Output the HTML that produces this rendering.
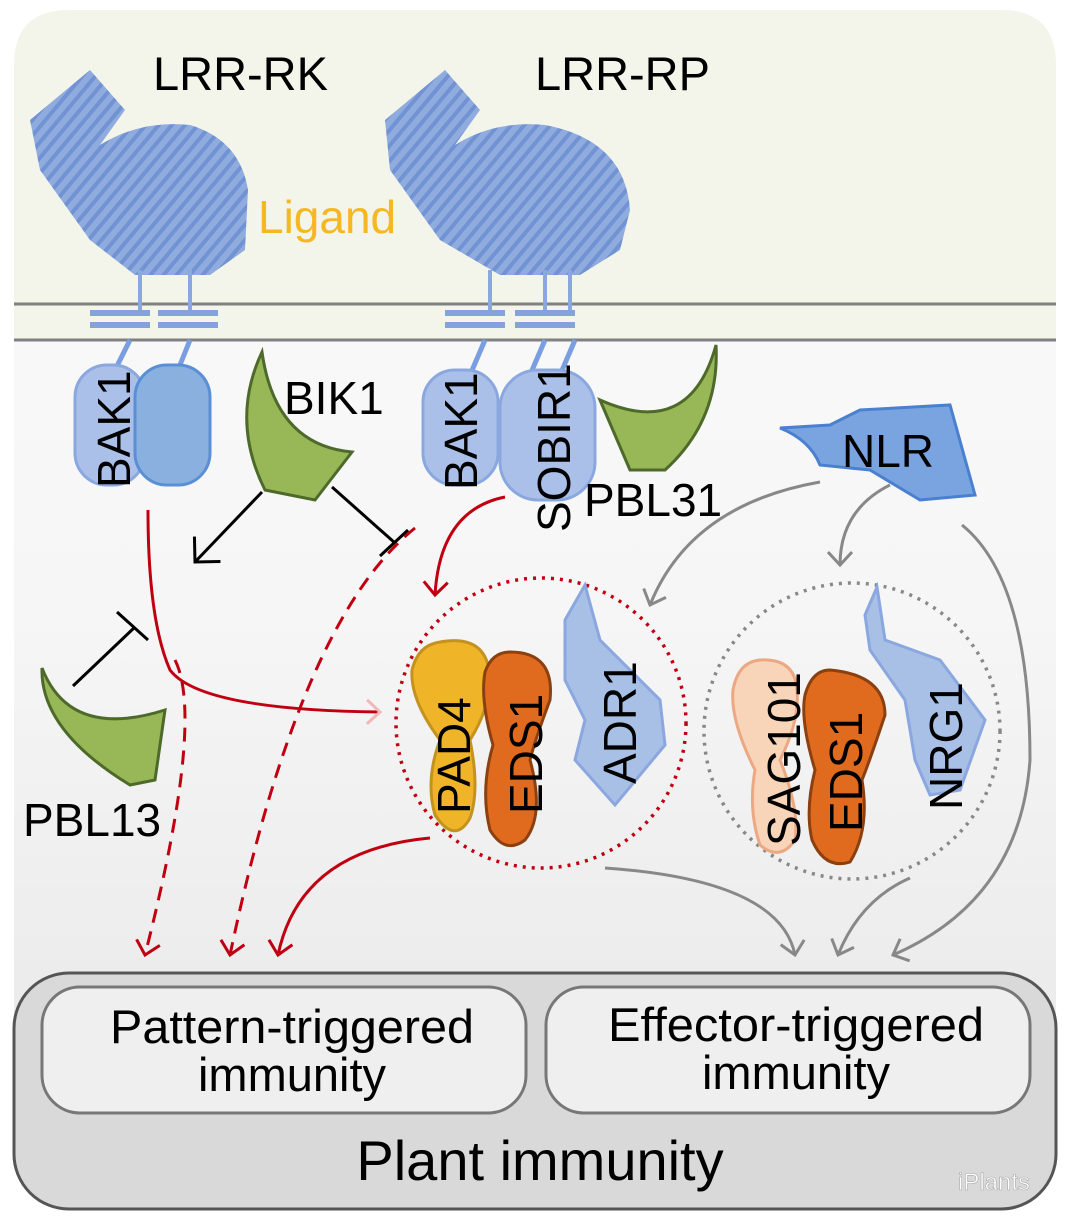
<!DOCTYPE html>
<html><head><meta charset="utf-8"><style>
html,body{margin:0;padding:0;background:#fff}
svg{display:block}
text{font-family:"Liberation Sans",sans-serif}
</style></head><body>
<svg width="1076" height="1224" viewBox="0 0 1076 1224" xmlns="http://www.w3.org/2000/svg">
<defs>
<linearGradient id="bg" x1="0" y1="0" x2="0" y2="1">
<stop offset="0" stop-color="#fbfbfb"/><stop offset="0.5" stop-color="#f6f6f6"/><stop offset="1" stop-color="#e6e6e6"/>
</linearGradient>
<pattern id="stripe" width="10" height="10" patternUnits="userSpaceOnUse" patternTransform="rotate(40)">
<rect width="10" height="10" fill="#7f9fdc"/><rect width="4" height="10" fill="#5a82cf"/>
</pattern>
<marker id="ar" markerWidth="30" markerHeight="30" refX="15" refY="15" orient="auto" markerUnits="userSpaceOnUse"><path d="M2,3 L15,15 L2,27" fill="none" stroke="#c00010" stroke-width="3"/></marker>
<marker id="ag" markerWidth="30" markerHeight="30" refX="15" refY="15" orient="auto" markerUnits="userSpaceOnUse"><path d="M2,3 L15,15 L2,27" fill="none" stroke="#888" stroke-width="3"/></marker>
<marker id="ak" markerWidth="40" markerHeight="40" refX="20" refY="20" orient="auto" markerUnits="userSpaceOnUse"><path d="M2,2 L20,20 L2,38" fill="none" stroke="#000" stroke-width="3"/></marker>
<marker id="ap" markerWidth="30" markerHeight="30" refX="15" refY="15" orient="auto" markerUnits="userSpaceOnUse"><path d="M2,3 L15,15 L2,27" fill="none" stroke="#f0b8b8" stroke-width="3"/></marker>
</defs>
<rect x="14" y="10" width="1042" height="1200" rx="55" fill="url(#bg)"/>
<path d="M14,340 V65 Q14,10 69,10 H1001 Q1056,10 1056,65 V340 Z" fill="#f3f5ea"/>
<line x1="14" y1="304" x2="1056" y2="304" stroke="#808080" stroke-width="3"/>
<line x1="14" y1="340" x2="1056" y2="340" stroke="#808080" stroke-width="3"/>

<!-- receptors -->
<g opacity="0.85">
<path d="M30,120 L90,70 L125,110 L100,145 Q140,120 190,125 Q240,140 248,190 L245,250 L210,275 L135,275 L90,240 L40,170 Z" fill="url(#stripe)"/>
<path d="M385,120 L445,70 L480,110 L455,145 Q495,120 545,125 Q625,140 630,210 L620,250 L580,275 L500,275 L440,240 L390,170 Z" fill="url(#stripe)"/>
</g>
<g stroke="#8aa8df" stroke-width="4" fill="none">
<path d="M140,270 V310"/><path d="M190,270 V310"/><path d="M490,270 V310"/><path d="M545,270 V310"/><path d="M570,270 V310"/>
</g>
<g fill="#6a8fd8" opacity="0.8">
<rect x="90" y="310" width="60" height="6"/><rect x="90" y="322" width="60" height="6"/><rect x="158" y="310" width="60" height="6"/><rect x="158" y="322" width="60" height="6"/>
<rect x="445" y="310" width="60" height="6"/><rect x="445" y="322" width="60" height="6"/><rect x="515" y="310" width="60" height="6"/><rect x="515" y="322" width="60" height="6"/>
</g>
<g stroke="#7a9fe0" stroke-width="5" fill="none">
<path d="M130,340 L115,370"/><path d="M190,340 L178,370"/><path d="M485,340 L470,375"/><path d="M545,340 L530,375"/><path d="M575,340 L560,375"/>
</g>
<!-- clouds -->
<rect x="75" y="365" width="70" height="120" rx="32" fill="#aac0e8" stroke="#8aa8df" stroke-width="3"/>
<rect x="135" y="365" width="75" height="120" rx="32" fill="#8ab0e0" stroke="#5a8fd6" stroke-width="3"/>
<rect x="423" y="370" width="75" height="115" rx="32" fill="#aac0e8" stroke="#8aa8df" stroke-width="3"/>
<rect x="500" y="370" width="95" height="130" rx="38" fill="#aac0e8" stroke="#8aa8df" stroke-width="3"/>
<!-- green crescents -->
<path d="M262,352 Q230,420 265,490 L315,500 L352,452 Q275,445 262,352 Z" fill="#98b858" stroke="#4e6a2a" stroke-width="3"/>
<path d="M716,345 Q690,440 600,400 L630,470 L665,470 Q720,420 716,345 Z" fill="#98b858" stroke="#4e6a2a" stroke-width="3"/>
<path d="M42,668 Q70,740 165,710 L155,780 L130,785 Q40,730 42,668 Z" fill="#98b858" stroke="#4e6a2a" stroke-width="3"/>
<!-- NLR -->
<path d="M780,428 L830,425 L860,410 L950,405 L975,495 L920,500 L870,470 L820,465 Q810,440 780,428 Z" fill="#7aa4e0" stroke="#4a80d0" stroke-width="3"/>

<!-- labels -->
<text x="153" y="90" font-size="47">LRR-RK</text>
<text x="535" y="90" font-size="47">LRR-RP</text>
<text x="258" y="233" font-size="46" fill="#f6b822">Ligand</text>
<text x="284" y="414" font-size="46">BIK1</text>
<text x="584" y="516" font-size="46">PBL31</text>
<text x="842" y="467" font-size="46">NLR</text>
<text x="23" y="836" font-size="46">PBL13</text>
<text transform="translate(130,488) rotate(-90)" font-size="46">BAK1</text>
<text transform="translate(477,490) rotate(-90)" font-size="46">BAK1</text>
<text transform="translate(570,532) rotate(-90)" font-size="46">SOBIR1</text>

<!-- arrows black -->
<line x1="262" y1="492" x2="195" y2="562" stroke="#000" stroke-width="3" marker-end="url(#ak)"/>
<line x1="332" y1="487" x2="395" y2="543" stroke="#000" stroke-width="3"/>
<line x1="380" y1="556" x2="408" y2="530" stroke="#000" stroke-width="3"/>
<line x1="73" y1="686" x2="135" y2="627" stroke="#000" stroke-width="3"/>
<line x1="117" y1="612" x2="148" y2="640" stroke="#000" stroke-width="3"/>

<!-- red -->
<path d="M148,510 Q148,620 170,670 Q200,710 380,712" fill="none" stroke="#c00010" stroke-width="3" marker-end="url(#ap)"/>
<path d="M505,497 Q440,510 435,595" fill="none" stroke="#c00010" stroke-width="3" marker-end="url(#ar)"/>
<path d="M175,660 Q205,720 145,955" fill="none" stroke="#c00010" stroke-width="3" stroke-dasharray="14,9" marker-end="url(#ar)"/>
<path d="M415,528 Q300,620 230,955" fill="none" stroke="#c00010" stroke-width="3" stroke-dasharray="14,9" marker-end="url(#ar)"/>
<path d="M430,838 Q300,850 278,955" fill="none" stroke="#c00010" stroke-width="3" marker-end="url(#ar)"/>

<!-- grey arrows -->
<path d="M820,482 Q690,505 650,605" fill="none" stroke="#888" stroke-width="3" marker-end="url(#ag)"/>
<path d="M890,485 Q840,510 840,565" fill="none" stroke="#888" stroke-width="3" marker-end="url(#ag)"/>
<path d="M962,525 Q1030,580 1030,760 Q1020,900 893,955" fill="none" stroke="#888" stroke-width="3" marker-end="url(#ag)"/>
<path d="M605,868 Q780,880 795,955" fill="none" stroke="#888" stroke-width="3" marker-end="url(#ag)"/>
<path d="M910,878 Q860,900 838,955" fill="none" stroke="#888" stroke-width="3" marker-end="url(#ag)"/>

<!-- circles -->
<circle cx="541" cy="723" r="145" fill="none" stroke="#c00010" stroke-width="3.5" stroke-dasharray="3,6"/>
<circle cx="852" cy="731" r="148" fill="none" stroke="#888" stroke-width="3.5" stroke-dasharray="3,6"/>

<!-- PAD4/EDS1 -->
<path d="M440,642 Q480,635 488,665 Q495,700 470,740 Q480,790 470,818 Q455,845 435,815 Q425,780 440,740 Q410,700 412,670 Q418,645 440,642 Z" fill="#f0b428" stroke="#c4921e" stroke-width="3"/>
<path d="M510,652 Q555,652 550,700 Q535,740 530,760 Q545,815 525,840 Q505,855 490,830 Q480,790 493,745 Q480,700 485,672 Q492,652 510,652 Z" fill="#e06a1e" stroke="#8a4010" stroke-width="3"/>
<path d="M585,585 L600,640 L660,700 L665,745 L615,805 L575,760 L585,720 L565,680 L565,620 Z" fill="#a8bfe6" stroke="#8aa8df" stroke-width="3"/>
<path d="M760,660 Q795,658 797,690 Q800,720 780,760 Q800,810 795,840 Q780,862 760,845 Q748,810 755,770 Q730,720 733,690 Q738,662 760,660 Z" fill="#f8d4b8" stroke="#eca882" stroke-width="3"/>
<path d="M830,670 Q885,675 885,715 Q870,760 862,780 Q870,830 850,862 Q825,870 812,840 Q805,810 815,770 Q800,720 805,695 Q812,670 830,670 Z" fill="#e06a1e" stroke="#8a4010" stroke-width="3"/>
<path d="M877,587 L885,640 L940,660 L985,720 L960,790 L930,795 L915,760 L905,700 L870,650 L865,615 Z" fill="#a8bfe6" stroke="#8aa8df" stroke-width="3"/>
<text transform="translate(470,814) rotate(-90)" font-size="46">PAD4</text>
<text transform="translate(542,814) rotate(-90)" font-size="46">EDS1</text>
<text transform="translate(636,784) rotate(-90)" font-size="46">ADR1</text>
<text transform="translate(800,846) rotate(-90)" font-size="46">SAG101</text>
<text transform="translate(862,832) rotate(-90)" font-size="46">EDS1</text>
<text transform="translate(962,810) rotate(-90)" font-size="46">NRG1</text>

<!-- bottom boxes -->
<rect x="14" y="973" width="1042" height="236" rx="55" fill="#d9d9d9" stroke="#555" stroke-width="3"/>
<rect x="42" y="987" width="484" height="126" rx="38" fill="#efefef" stroke="#777" stroke-width="3"/>
<rect x="546" y="987" width="484" height="126" rx="38" fill="#efefef" stroke="#777" stroke-width="3"/>
<text x="292" y="1043" font-size="47" text-anchor="middle" textLength="364" lengthAdjust="spacingAndGlyphs">Pattern-triggered</text>
<text x="292" y="1091" font-size="47" text-anchor="middle">immunity</text>
<text x="796" y="1041" font-size="47" text-anchor="middle" textLength="376" lengthAdjust="spacingAndGlyphs">Effector-triggered</text>
<text x="796" y="1089" font-size="47" text-anchor="middle">immunity</text>
<text x="540" y="1180" font-size="56" text-anchor="middle">Plant immunity</text>
<text x="958" y="1190" font-size="24" fill="#fff" stroke="#aaa" stroke-width="0.6">iPlants</text>
</svg>
</body></html>
